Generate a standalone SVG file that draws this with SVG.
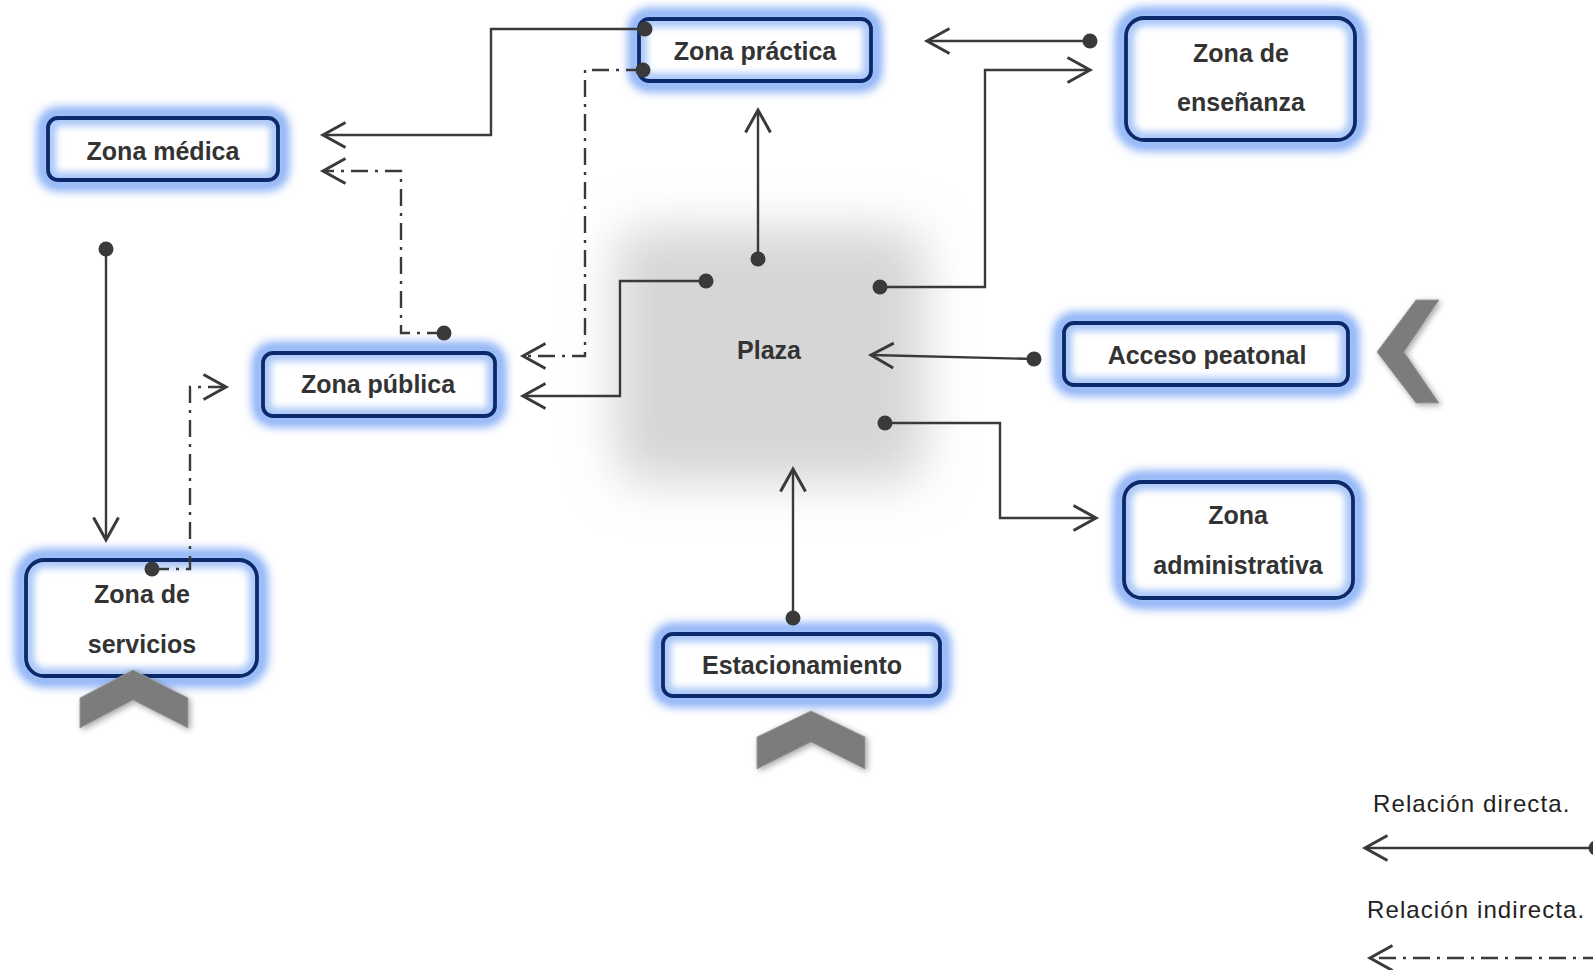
<svg xmlns="http://www.w3.org/2000/svg" width="1593" height="970" viewBox="0 0 1593 970">
<defs>
<style>
.halo{fill:none;stroke:#86adf6;stroke-width:22;filter:url(#halo)}
.box{fill:#fff}
.inner{fill:none;stroke:#a9c6f8;stroke-width:12;filter:url(#soft)}
.border{fill:none;stroke:#0c2a6b;stroke-width:3.8}
.lbl{font-family:"Liberation Sans",Arial,sans-serif;font-weight:bold;font-size:25px;fill:#333;text-anchor:middle;dominant-baseline:central}
.leg{font-family:"Liberation Sans",Arial,sans-serif;font-size:24px;letter-spacing:1.1px;fill:#222}
.c{fill:none;stroke:#3a3a3a;stroke-width:2.4;marker-start:url(#dot);marker-end:url(#arr)}
.dd{stroke-dasharray:17 7 3 7}
.chev{fill:#7b7b7b;stroke:#9a9a9a;stroke-width:1;filter:url(#shadow)}
</style>
<filter id="halo" x="-30%" y="-80%" width="160%" height="260%"><feGaussianBlur stdDeviation="5"/></filter>
<filter id="soft" x="-10%" y="-30%" width="120%" height="160%"><feGaussianBlur stdDeviation="3.5"/></filter>
<filter id="plaza" x="-30%" y="-30%" width="160%" height="160%"><feGaussianBlur stdDeviation="24"/></filter>
<filter id="shadow" x="-30%" y="-30%" width="160%" height="160%">
<feGaussianBlur in="SourceAlpha" stdDeviation="3" result="b"/>
<feOffset in="b" dx="2" dy="2" result="o"/>
<feComponentTransfer in="o" result="s"><feFuncA type="linear" slope="0.35"/></feComponentTransfer>
<feMerge><feMergeNode in="s"/><feMergeNode in="SourceGraphic"/></feMerge>
</filter>
<marker id="arr" markerUnits="userSpaceOnUse" markerWidth="30" markerHeight="30" viewBox="-20 -12 22 24" refX="0" refY="0" orient="auto" overflow="visible">
<path d="M-18,-10 L0,0 L-18,10" fill="none" stroke="#3a3a3a" stroke-width="2.4" stroke-dasharray="none"/>
</marker>
<marker id="dot" markerUnits="userSpaceOnUse" markerWidth="20" markerHeight="20" viewBox="-10 -10 20 20" refX="0" refY="0" orient="auto" overflow="visible">
<circle r="7.5" fill="#3a3a3a" stroke="none"/>
</marker>
</defs>
<rect width="1593" height="970" fill="#fff"/>

<g id="plaza">
<rect x="615" y="228" width="310" height="255" rx="30" fill="#d6d6d6" filter="url(#plaza)"/>
<text class="lbl" x="769" y="350">Plaza</text>
</g>

<g id="zona-practica">
<rect class="halo" x="639" y="19" width="232" height="62" rx="10"/>
<rect class="box" x="639" y="19" width="232" height="62" rx="10"/>
<rect class="inner" x="641" y="21" width="228" height="58" rx="9"/>
<rect class="border" x="639" y="19" width="232" height="62" rx="10"/>
<text class="lbl" x="755" y="51">Zona práctica</text>
</g>
<g id="zona-medica">
<rect class="halo" x="48" y="118" width="230" height="62" rx="10"/>
<rect class="box" x="48" y="118" width="230" height="62" rx="10"/>
<rect class="inner" x="50" y="120" width="226" height="58" rx="9"/>
<rect class="border" x="48" y="118" width="230" height="62" rx="10"/>
<text class="lbl" x="163" y="151">Zona médica</text>
</g>
<g id="zona-ensenanza">
<rect class="halo" x="1126" y="18" width="229" height="122" rx="18"/>
<rect class="box" x="1126" y="18" width="229" height="122" rx="18"/>
<rect class="inner" x="1128" y="20" width="225" height="118" rx="17"/>
<rect class="border" x="1126" y="18" width="229" height="122" rx="18"/>
<text class="lbl" x="1241" y="53">Zona de</text>
<text class="lbl" x="1241" y="102">enseñanza</text>
</g>
<g id="zona-publica">
<rect class="halo" x="263" y="353" width="232" height="63" rx="10"/>
<rect class="box" x="263" y="353" width="232" height="63" rx="10"/>
<rect class="inner" x="265" y="355" width="228" height="59" rx="9"/>
<rect class="border" x="263" y="353" width="232" height="63" rx="10"/>
<text class="lbl" x="378" y="384">Zona pública</text>
</g>
<g id="acceso-peatonal">
<rect class="halo" x="1064" y="323" width="284" height="62" rx="10"/>
<rect class="box" x="1064" y="323" width="284" height="62" rx="10"/>
<rect class="inner" x="1066" y="325" width="280" height="58" rx="9"/>
<rect class="border" x="1064" y="323" width="284" height="62" rx="10"/>
<text class="lbl" x="1207" y="355">Acceso peatonal</text>
</g>
<g id="zona-administrativa">
<rect class="halo" x="1124" y="482" width="229" height="116" rx="18"/>
<rect class="box" x="1124" y="482" width="229" height="116" rx="18"/>
<rect class="inner" x="1126" y="484" width="225" height="112" rx="17"/>
<rect class="border" x="1124" y="482" width="229" height="116" rx="18"/>
<text class="lbl" x="1238" y="515">Zona</text>
<text class="lbl" x="1238" y="565">administrativa</text>
</g>
<g id="zona-servicios">
<rect class="halo" x="26" y="560" width="231" height="116" rx="18"/>
<rect class="box" x="26" y="560" width="231" height="116" rx="18"/>
<rect class="inner" x="28" y="562" width="227" height="112" rx="17"/>
<rect class="border" x="26" y="560" width="231" height="116" rx="18"/>
<text class="lbl" x="142" y="594">Zona de</text>
<text class="lbl" x="142" y="644">servicios</text>
</g>
<g id="estacionamiento">
<rect class="halo" x="663" y="634" width="277" height="62" rx="10"/>
<rect class="box" x="663" y="634" width="277" height="62" rx="10"/>
<rect class="inner" x="665" y="636" width="273" height="58" rx="9"/>
<rect class="border" x="663" y="634" width="277" height="62" rx="10"/>
<text class="lbl" x="802" y="665">Estacionamiento</text>
</g>

<g id="connectors">
<path class="c" d="M645,29 H491 V135 H323"/>
<path class="c dd" d="M643,70 H585 V356 H523"/>
<path class="c dd" d="M444,333 H401 V171 H323"/>
<path class="c" d="M706,281 H620 V396 H523"/>
<path class="c" d="M758,259 V110"/>
<path class="c" d="M880,287 H985 V70 H1090"/>
<path class="c" d="M1090,41 H927"/>
<path class="c" d="M1034,359 L871,355"/>
<path class="c" d="M885,423 H1000 V518 H1096"/>
<path class="c" d="M793,618 V469"/>
<path class="c" d="M106,249 V540"/>
<path class="c dd" d="M152,569 H190 V387 H226"/>
</g>

<g id="chevrons">
<polygon class="chev" points="1377,352 1416,300 1439,300 1404,352 1439,403 1416,403"/>
<polygon class="chev" points="133,670 188,698 188,728 133,700 80,728 80,698"/>
<polygon class="chev" points="811,711 865,737 865,769 811,742 757,769 757,737"/>
</g>

<g id="legend">
<text class="leg" x="1373" y="812">Relación directa.</text>
<path class="c" d="M1596,848 H1365"/>
<text class="leg" x="1367" y="918">Relación indirecta.</text>
<path class="c dd" d="M1600,958 H1370" style="marker-start:none"/>
</g>
</svg>
